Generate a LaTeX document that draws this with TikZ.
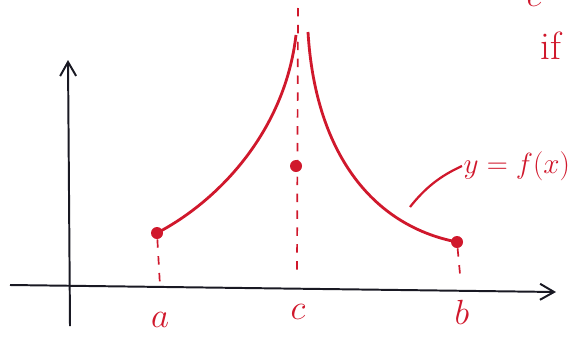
\documentclass[tikz,border=0pt]{standalone}
\usepackage{tikz}
\usetikzlibrary{arrows.meta}
\definecolor{penred}{RGB}{208,24,44}
\definecolor{penblack}{RGB}{25,25,35}
\tikzset{
    dot/.style={circle, fill=penred, inner sep=0pt, minimum size=0.3cm},
    guide/.style={penred, line width=1.2pt, dash pattern=on 6pt off 6pt},
    lbl/.style={penred, font=\fontsize{24}{28}\selectfont}
}
\begin{document}
\begin{tikzpicture}[x=0.025cm, y=-0.025cm, >={Straight Barb[length=3.5mm, width=4mm]}]
        \useasboundingbox (0,0) rectangle (582,336);

        % Axes
        \coordinate (xs) at (10,285);
        \coordinate (xe) at (556,292);
        \coordinate (ys) at (70,326);
        \coordinate (ye) at (68,60);
        \draw[->, penblack, line width=1.4pt] (xs) -- (xe);
        \draw[->, penblack, line width=1.4pt] (ys) -- (ye);

        % Points on the curve
        \node[dot] (pa) at (157,233) {};
        \node[dot] (pc) at (296,166) {};
        \node[dot] (pb) at (457,242) {};
        \coordinate (cl) at (296,35);
        \coordinate (cr) at (308,32);

        % Curve
        \draw[penred, line width=2pt] (pa.center) .. controls (220,200) and (285,130) .. (cl);
        \draw[penred, line width=2pt] (cr) .. controls (315,150) and (370,225) .. (pb.center);

        % Guide lines
        \coordinate (ta) at (160,286);
        \coordinate (ct) at (298,8);
        \coordinate (cb) at (297,270);
        \coordinate (tb) at (460,274);
        \draw[guide] (pa) -- (ta);
        \draw[guide] (ct) -- (cb);
        \draw[guide] (pb) -- (tb);

        % Axis labels
        \foreach \n/\x/\y in {a/160/320, c/298/312, b/462/312} {
            \node[lbl] (l\n) at (\x,\y) {$\n$};
        }

        % Function label
        \node[lbl, anchor=west, inner sep=1pt, font=\fontsize{22}{26}\selectfont] (fx) at (462,166) {$y = f(x)$};
        \coordinate (fp) at (410,207);
        \draw[penred, line width=1.6pt] (fp) .. controls (425,188) and (440,176) .. (fx.west);
        \node[lbl, anchor=west, font=\fontsize{28}{32}\selectfont] (cond) at (536,46) {if};
        \node[lbl, anchor=base, font=\fontsize{28}{32}\selectfont] (top) at (534,6) {$c$};
    \end{tikzpicture}
\end{document}
